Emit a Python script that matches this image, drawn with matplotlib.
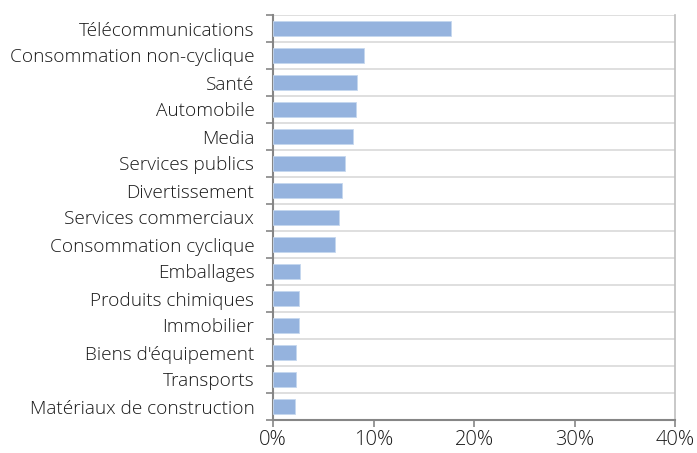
import matplotlib
matplotlib.use("Agg")
import matplotlib.pyplot as plt
import numpy as np
from matplotlib.ticker import FixedLocator, PercentFormatter

plt.rcParams['font.family'] = ['Open Sans', 'DejaVu Sans']
plt.rcParams['font.weight'] = 'light'

categories = ["Télécommunications", "Consommation non-cyclique", "Santé", "Automobile",
              "Media", "Services publics", "Divertissement", "Services commerciaux",
              "Consommation cyclique", "Emballages", "Produits chimiques", "Immobilier",
              "Biens d'équipement", "Transports", "Matériaux de construction"]
values = [17.7, 9.1, 8.35, 8.25, 7.95, 7.2, 6.9, 6.6, 6.2, 2.65, 2.6, 2.55, 2.25, 2.25, 2.2]

fig = plt.figure(figsize=(6.97, 4.53), dpi=100)
ax = fig.add_axes([273/697, 1 - 420/453, (675-273)/697, (420-15)/453])

pos = np.arange(len(categories))
ax.barh(pos, values, height=0.52, color='#95B3DE', edgecolor='#C5D7EE', linewidth=0.6, zorder=3)

ax.set_ylim(len(categories) - 0.5, -0.5)
ax.set_xlim(0, 40)

# category boundaries: ticks + gridlines
ax.yaxis.set_major_locator(FixedLocator(np.arange(-0.5, len(categories), 1)))
ax.yaxis.set_major_formatter(plt.NullFormatter())
ax.yaxis.set_minor_locator(FixedLocator(pos))
ax.set_yticklabels(categories, minor=True)
ax.tick_params(axis='y', which='major', length=5, width=1.2, color='#868686', direction='out')
ax.tick_params(axis='y', which='minor', length=0, pad=13.5, labelsize=13.7, labelcolor='#1a1a1a')
ax.yaxis.grid(True, which='major', color='#D9D9D9', linewidth=1.2, zorder=0)

ax.set_xticks([0, 10, 20, 30, 40])
ax.xaxis.set_major_formatter(PercentFormatter(decimals=0))
ax.tick_params(axis='x', length=5, width=1.2, color='#868686', labelsize=14.5,
               labelcolor='#1a1a1a', pad=2)

for s in ['left', 'bottom']:
    ax.spines[s].set_color('#868686')
    ax.spines[s].set_linewidth(1.5)
ax.spines['right'].set_color('#BFBFBF')
ax.spines['right'].set_linewidth(1.2)
ax.spines['top'].set_visible(False)

fig.savefig('out.png', dpi=100)
